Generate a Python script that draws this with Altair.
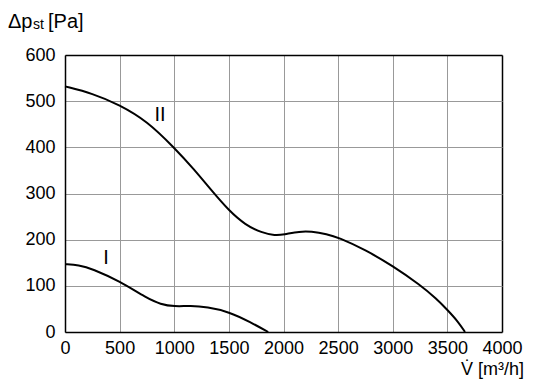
import altair as alt
import pandas as pd

# Curve II
x2 = [0, 250, 500, 750, 1000, 1175, 1350, 1500, 1650, 1800, 1925, 2000, 2150, 2250, 2400, 2500, 2750, 3000, 3250, 3400, 3500, 3600, 3661]
y2 = [532, 517, 492, 457, 399, 354, 304, 263, 232, 215, 209, 211, 218, 218, 212, 205, 178, 143, 102, 72, 48, 22, 0]
# Curve I
x1 = [0, 125, 250, 500, 750, 875, 1000, 1150, 1300, 1500, 1700, 1860]
y1 = [147, 145, 137, 110, 73, 60, 55, 57, 54, 44, 21, 0]

curve_labels = ["I", "II"]
label_x = [375, 870]
label_y = [160, 470]

x_ticks = [0, 500, 1000, 1500, 2000, 2500, 3000, 3500, 4000]
y_ticks = [0, 100, 200, 300, 400, 500, 600]

df = pd.concat([
    pd.DataFrame({"V": x1, "p": y1, "curve": "I"}),
    pd.DataFrame({"V": x2, "p": y2, "curve": "II"}),
])
lab = pd.DataFrame({"V": label_x, "p": label_y, "t": curve_labels})
one = pd.DataFrame({"a": [0]})

FONT = "Liberation Sans"

xs = alt.Scale(domain=[0, 4000], nice=False)
ys = alt.Scale(domain=[0, 600], nice=False)

xgrid = {"condition": {"test": "datum.value == 4000", "value": "black"}, "value": "#999"}
ygrid = {"condition": {"test": "datum.value == 600", "value": "black"}, "value": "#999"}
xgw = {"condition": {"test": "datum.value == 4000", "value": 1.5}, "value": 1}
ygw = {"condition": {"test": "datum.value == 600", "value": 1.5}, "value": 1}

xax = alt.Axis(values=x_ticks, title=None, grid=True, gridColor=xgrid, gridWidth=xgw,
               domainColor="black", domainWidth=1.5, ticks=False, labelPadding=7,
               labelOverlap=False, labelFlush=False, labelBound=False,
               labelFont=FONT, labelFontSize=18, labelColor="black", format="d")
yax = alt.Axis(values=y_ticks, title=None, grid=True, gridColor=ygrid, gridWidth=ygw,
               domainColor="black", domainWidth=1.5, ticks=False, labelPadding=10,
               labelOverlap=False, labelFlush=False,
               labelFont=FONT, labelFontSize=18, labelColor="black", format="d")

lines = alt.Chart(df).mark_line(color="black", strokeWidth=2, interpolate="basis").encode(
    x=alt.X("V:Q", scale=xs, axis=xax),
    y=alt.Y("p:Q", scale=ys, axis=yax),
    detail="curve:N",
)

labels = alt.Chart(lab).mark_text(font=FONT, fontSize=20, color="black").encode(
    x=alt.X("V:Q", scale=xs), y=alt.Y("p:Q", scale=ys), text="t:N"
)

def txt(s, x, y, size, align="left"):
    return alt.Chart(one).mark_text(text=s, font=FONT, fontSize=size, color="black",
                                    align=align, baseline="alphabetic").encode(
        x=alt.value(x), y=alt.value(y))

t1 = txt("\u0394p", -57, -27, 20)
t2 = txt("st", -32, -26, 14)
t3 = txt("[Pa]", -17, -27, 20)
t4 = txt("V\u0307 [m\u00b3/h]", 459, 320, 18, align="right")

chart = alt.layer(lines, labels, t1, t2, t3, t4).properties(
    width=437, height=277,
    autosize=alt.AutoSizeParams(type="none"),
    padding={"left": 57, "top": 47, "right": 26, "bottom": 48},
).configure_view(stroke="black", strokeWidth=1.5).configure(background="white")

chart.save("out.html", embed_options={"renderer": "svg", "actions": False})
